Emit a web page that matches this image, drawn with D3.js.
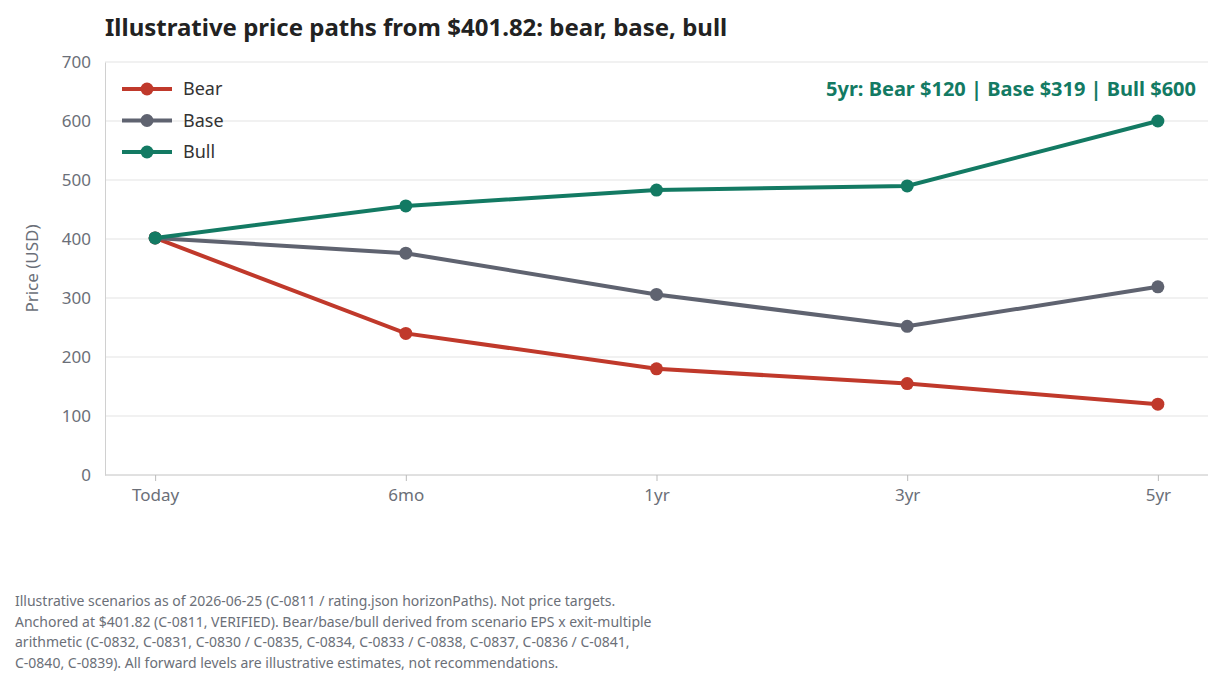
<!DOCTYPE html>
<html><head><meta charset="utf-8">
<script src="https://cdn.jsdelivr.net/npm/d3@7"></script>
<style>body{margin:0;background:#fff;font-family:"Noto Sans",sans-serif;}</style>
</head><body>
<script>
const categories = ["Today", "6mo", "1yr", "3yr", "5yr"];
const bearValues = [401.82, 240, 180, 155, 120];
const baseValues = [401.82, 376, 306, 252, 319];
const bullValues = [401.82, 456, 483, 490, 600];
const yTicks = [0, 100, 200, 300, 400, 500, 600, 700];
const seriesNames = ["Bear", "Base", "Bull"];
const seriesColors = ["#c0392b", "#5f6370", "#137a63"];
const footnote = [
  "Illustrative scenarios as of 2026-06-25 (C-0811 / rating.json horizonPaths). Not price targets.",
  "Anchored at $401.82 (C-0811, VERIFIED). Bear/base/bull derived from scenario EPS x exit-multiple",
  "arithmetic (C-0832, C-0831, C-0830 / C-0835, C-0834, C-0833 / C-0838, C-0837, C-0836 / C-0841,",
  "C-0840, C-0839). All forward levels are illustrative estimates, not recommendations."
];

const svg = d3.select("body").append("svg").attr("width", 1222).attr("height", 689);
const plotLeft = 105, plotRight = 1208, plotTop = 62, plotBottom = 475;

const x = d3.scalePoint().domain(categories).range([plotLeft, plotRight]).padding(0.2);
const y = d3.scaleLinear().domain([0, 700]).range([plotBottom, plotTop]);

svg.append("text").attr("x", 105).attr("y", 36)
  .attr("font-size", "24px").attr("font-weight", "bold").attr("fill", "#222")
  .text("Illustrative price paths from $401.82: bear, base, bull");

// gridlines
svg.selectAll(".grid").data(yTicks).enter().append("line")
  .attr("x1", plotLeft).attr("x2", plotRight)
  .attr("y1", d => y(d)).attr("y2", d => y(d))
  .attr("stroke", "#e3e3e3");

const yAxis = svg.append("g").attr("transform", `translate(${plotLeft},0)`)
  .call(d3.axisLeft(y).tickValues(yTicks).tickSize(0).tickPadding(14));
yAxis.select(".domain").attr("stroke", "#d0d0d0");
yAxis.selectAll("text").attr("font-size", "17px").attr("fill", "#6b6f78").attr("font-family", "Noto Sans");

const xAxis = svg.append("g").attr("transform", `translate(0,${plotBottom})`)
  .call(d3.axisBottom(x).tickSize(6).tickPadding(8));
xAxis.select(".domain").attr("stroke", "#d0d0d0").attr("d", `M${plotLeft},0H${plotRight}`);
xAxis.selectAll("line").attr("stroke", "#bbb");
xAxis.selectAll("text").attr("font-size", "17px").attr("fill", "#6b6f78").attr("font-family", "Noto Sans");

svg.append("text").attr("transform", `translate(38,${(plotTop + plotBottom) / 2}) rotate(-90)`)
  .attr("text-anchor", "middle").attr("font-size", "17px").attr("fill", "#6b6f78")
  .text("Price (USD)");

const allSeries = [bearValues, baseValues, bullValues];
const line = d3.line().x((d, i) => x(categories[i])).y(d => y(d));
allSeries.forEach((vals, s) => {
  svg.append("path").datum(vals).attr("d", line)
    .attr("fill", "none").attr("stroke", seriesColors[s]).attr("stroke-width", 4);
  svg.selectAll(null).data(vals).enter().append("circle")
    .attr("cx", (d, i) => x(categories[i])).attr("cy", d => y(d)).attr("r", 6.5)
    .attr("fill", seriesColors[s]);
});

// legend
seriesNames.forEach((n, i) => {
  const ly = 89 + i * 31.5;
  svg.append("line").attr("x1", 122).attr("x2", 172).attr("y1", ly).attr("y2", ly)
    .attr("stroke", seriesColors[i]).attr("stroke-width", 4);
  svg.append("circle").attr("cx", 147).attr("cy", ly).attr("r", 6.5).attr("fill", seriesColors[i]);
  svg.append("text").attr("x", 183).attr("y", ly + 6).attr("font-size", "18px").attr("fill", "#333").text(n);
});

svg.append("text").attr("x", 1196).attr("y", 96).attr("text-anchor", "end")
  .attr("font-size", "20px").attr("font-weight", "bold").attr("fill", seriesColors[2])
  .text("5yr: Bear $120 | Base $319 | Bull $600");

svg.selectAll(".foot").data(footnote).enter().append("text")
  .attr("x", 15).attr("y", (d, i) => 606 + i * 20.5)
  .attr("font-size", "14px").attr("fill", "#6b6f78").text(d => d);
</script>
</body></html>
